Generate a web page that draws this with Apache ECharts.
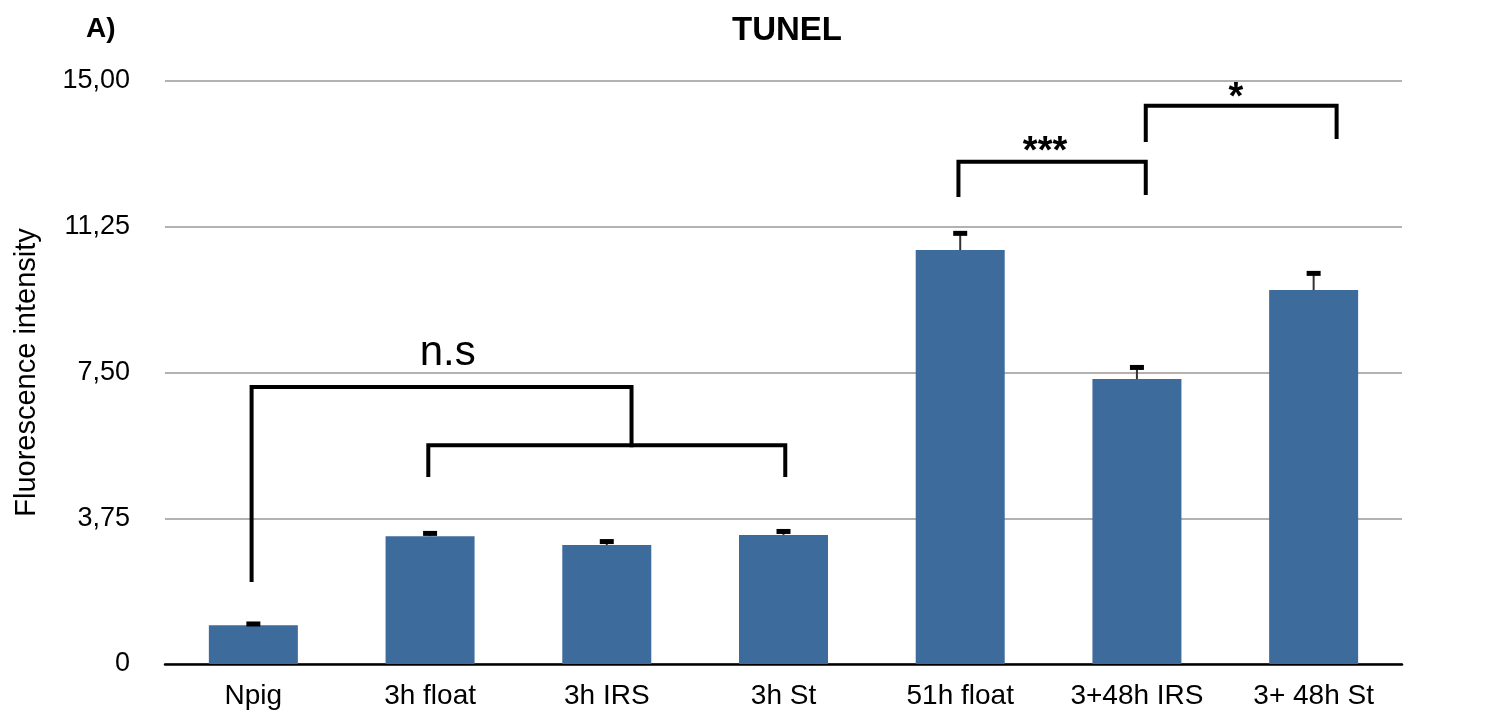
<!DOCTYPE html>
<html>
<head>
<meta charset="utf-8">
<title>TUNEL</title>
<script src="https://cdn.jsdelivr.net/npm/echarts@6/dist/echarts.min.js"></script>
<style>
  html, body { margin: 0; padding: 0; background: #ffffff; }
  #chart { width: 1486px; height: 720px; }
</style>
</head>
<body>
<div id="chart"></div>
<script>
// Groups and measured TUNEL fluorescence (mean and SEM)
const categories = ['Npig', '3h float', '3h IRS', '3h St', '51h float', '3+48h IRS', '3+ 48h St'];
const means = [1.00, 3.29, 3.06, 3.32, 10.65, 7.33, 9.62];
const errors = [0.03, 0.07, 0.09, 0.09, 0.43, 0.30, 0.43];

// Value axis ticks
const yMin = 0;
const yMax = 15;
const yStep = 3.75;

// Significance brackets, as [group position, value] polylines
const bracketNsOuter = [[-0.01, 2.16], [-0.01, 7.13], [2.14, 7.13], [2.14, 5.63]];
const bracketNsInner = [[0.99, 4.86], [0.99, 5.63], [3.01, 5.63], [3.01, 4.86]];
const bracketTriple = [[3.99, 12.07], [3.99, 12.92], [5.05, 12.92], [5.05, 12.12]];
const bracketSingle = [[5.05, 13.48], [5.05, 14.36], [6.13, 14.36], [6.13, 13.56]];

// Significance marks and where they sit
const sigTexts = ['n.s', '***', '*'];
const sigPositions = [[1.10, 7.98], [4.48, 13.15], [5.56, 14.56]];
const sigSizes = [42, 38, 38];
const sigWeights = ['normal', 'bold', 'bold'];

const FONT = '"Liberation Sans", Arial, Helvetica, sans-serif';

const chart = echarts.init(document.getElementById('chart'), null, { renderer: 'canvas' });

function bracketSeries(points) {
  return {
    type: 'line',
    xAxisIndex: 1,
    yAxisIndex: 0,
    data: points,
    symbol: 'none',
    silent: true,
    animation: false,
    z: 5,
    lineStyle: { color: '#000000', width: 4, cap: 'square', join: 'miter' }
  };
}

const option = {
  animation: false,
  backgroundColor: '#ffffff',
  title: {
    text: 'TUNEL',
    left: 727,
    top: 9,
    textStyle: { fontFamily: FONT, fontSize: 33, fontWeight: 'bold', color: '#000000' }
  },
  graphic: [{
    type: 'text',
    left: 86,
    top: 15,
    style: { text: 'A)', font: 'bold 28px ' + FONT, fill: '#000000' }
  }],
  grid: { left: 165, right: 84, top: 81, bottom: 56, containLabel: false },
  xAxis: [{
    type: 'category',
    data: categories,
    axisTick: { show: false },
    axisLine: { lineStyle: { color: '#000000', width: 2.5 } },
    axisLabel: { fontFamily: FONT, fontSize: 28, color: '#000000', margin: 18, interval: 0 }
  }, {
    type: 'value',
    min: -0.5,
    max: 6.5,
    show: false
  }],
  yAxis: {
    type: 'value',
    min: yMin,
    max: yMax,
    interval: yStep,
    name: 'Fluorescence intensity',
    nameLocation: 'middle',
    nameGap: 124,
    nameTextStyle: { fontFamily: FONT, fontSize: 29, color: '#000000' },
    axisLine: { show: false },
    axisTick: { show: false },
    axisLabel: {
      fontFamily: FONT, fontSize: 27, color: '#000000', margin: 35,
      formatter: v => v === 0 ? '0' : v.toFixed(2).replace('.', ',')
    },
    splitLine: { lineStyle: { color: '#b2b2b2', width: 2 } }
  },
  series: [
    {
      type: 'bar',
      data: means,
      barWidth: 89,
      itemStyle: { color: '#3d6b9b' },
      z: 2
    },
    {
      type: 'custom',
      xAxisIndex: 0,
      yAxisIndex: 0,
      z: 3,
      data: means.map((m, i) => [i, m, errors[i]]),
      renderItem: function (params, api) {
        const i = api.value(0);
        const m = api.value(1);
        const e = api.value(2);
        const base = api.coord([i, m]);
        const top = api.coord([i, m + e]);
        return {
          type: 'group',
          children: [
            {
              type: 'line',
              shape: { x1: base[0], y1: base[1], x2: top[0], y2: top[1] },
              style: { stroke: '#333333', lineWidth: 2 }
            },
            {
              type: 'rect',
              shape: { x: top[0] - 7, y: top[1] - 2.5, width: 14, height: 5 },
              style: { fill: '#000000' }
            }
          ]
        };
      }
    },
    bracketSeries(bracketNsOuter),
    bracketSeries(bracketNsInner),
    bracketSeries(bracketTriple),
    bracketSeries(bracketSingle),
    {
      type: 'scatter',
      xAxisIndex: 1,
      yAxisIndex: 0,
      symbolSize: 0,
      silent: true,
      z: 6,
      data: sigPositions.map((p, i) => ({
        value: p,
        label: {
          show: true,
          position: 'inside',
          formatter: sigTexts[i],
          fontFamily: FONT,
          fontSize: sigSizes[i],
          fontWeight: sigWeights[i],
          color: '#000000',
          textBorderWidth: 0,
          opacity: 1
        }
      }))
    }
  ]
};

chart.setOption(option);
</script>
</body>
</html>
